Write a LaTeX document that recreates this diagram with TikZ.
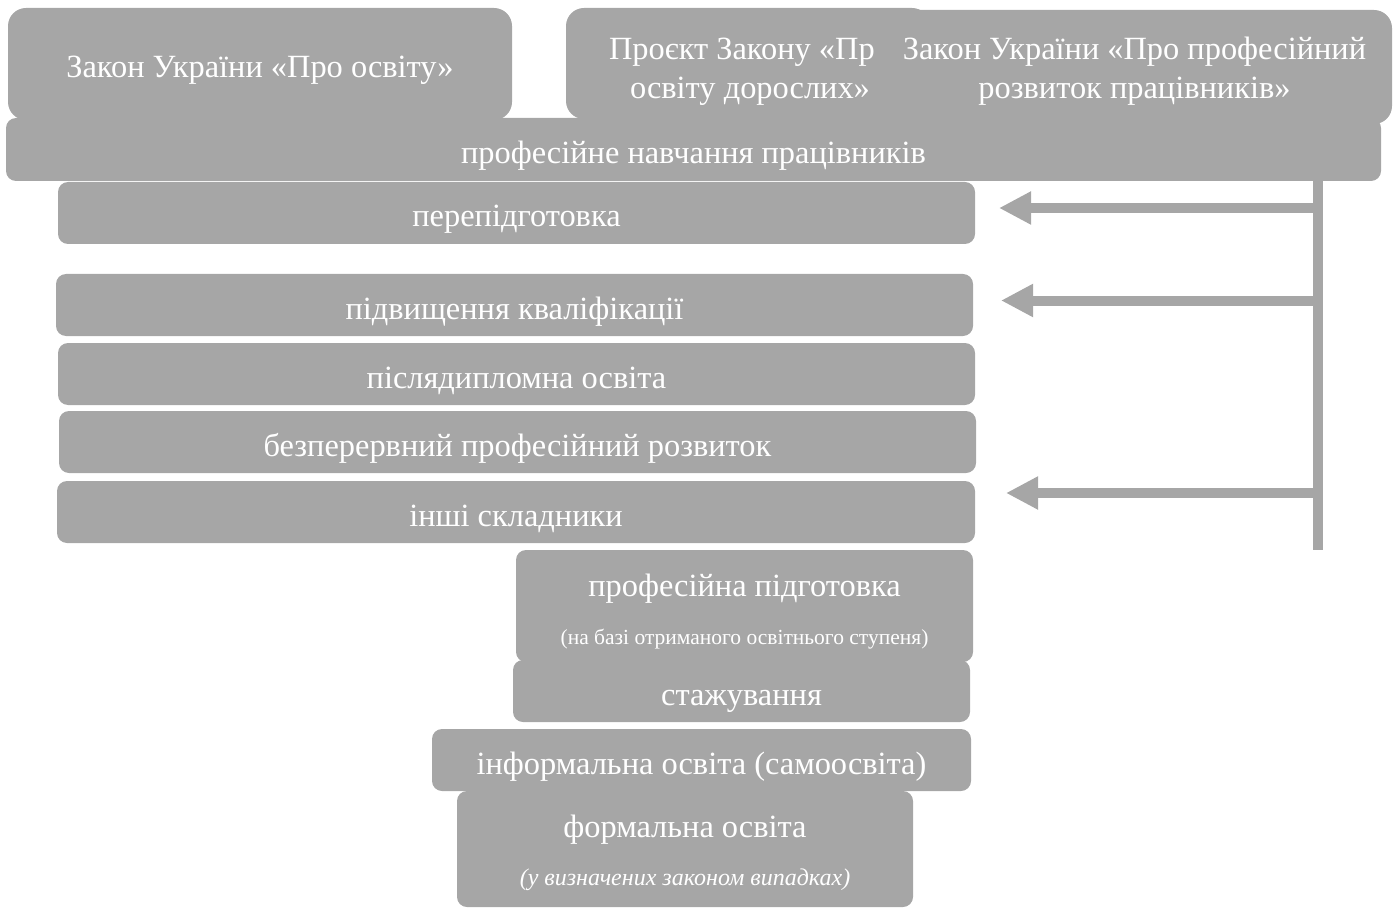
\documentclass[tikz,border=0pt]{standalone}
\usepackage{fontspec}
\setmainfont{Liberation Serif}
\usetikzlibrary{arrows.meta}
\definecolor{boxgray}{HTML}{A6A6A6}
\begin{document}
\begin{tikzpicture}[x=1pt,y=-1pt,
  box/.style={fill=boxgray, draw=none, rounded corners=10pt, inner sep=0pt,
    text=white, align=center, text height=28pt, text depth=0pt,
    font=\fontsize{32.4}{39}\selectfont},
  shapebox/.style={fill=boxgray, draw=none, rounded corners=10pt, inner sep=0pt},
  bigshape/.style={shapebox, rounded corners=18pt},
  txt/.style={inner sep=0pt, text=white, align=center, font=\fontsize{32.4}{39}\selectfont},
  smalltxt/.style={txt, font=\fontsize{21.5}{25}\selectfont},
  itxt/.style={txt, font=\fontsize{24}{28}\selectfont\itshape},
  vline/.style={draw=boxgray, line width=10pt},
  arr/.style={draw=boxgray, line width=10pt, -{Triangle[length=32pt,width=31pt]}}
]
\useasboundingbox (0,0) rectangle (1394,909);
% top boxes
\node[box, rounded corners=18pt, minimum width=504pt, minimum height=112pt] (lawEdu) at (260,64) {Закон України «Про освіту»};
\node[bigshape, minimum width=364pt, minimum height=111pt] (draftAdult) at (748,63.5) {};
\node[txt] (draftAdultT) at (750,71.5) {Проєкт Закону «Про\\освіту дорослих»};
\node[bigshape, minimum width=517pt, minimum height=114pt] (lawProf) at (1133.5,67) {};
\node[txt] (lawProfT) at (1134.5,71) {Закон України «Про професійний\\розвиток працівників»};
% bar
\node[box, minimum width=1375pt, minimum height=63pt] (bar) at (693.5,149.5) {професійне навчання працівників};
% rows
\node[box, minimum width=917pt, minimum height=62pt] (perep) at (516.5,213) {перепідготовка};
\node[box, minimum width=917pt, minimum height=62pt] (pidv) at (514.5,305) {підвищення кваліфікації};
\node[box, minimum width=917pt, minimum height=62pt] (pisl) at (516.5,374) {післядипломна освіта};
\node[box, minimum width=917pt, minimum height=62pt] (bezp) at (517.5,442) {безперервний професійний розвиток};
\node[box, minimum width=918pt, minimum height=62pt] (inshi) at (516,512) {інші складники};
\node[shapebox, minimum width=457pt, minimum height=112pt] (profp) at (744.5,606) {};
\node[txt, anchor=base] (profpA) at (744.5,596) {професійна підготовка};
\node[smalltxt, anchor=base] (profpB) at (744.5,644.5) {(на базі отриманого освітнього ступеня)};
\node[box, minimum width=457pt, minimum height=62pt] (stazh) at (741.5,691) {стажування};
\node[box, minimum width=539pt, minimum height=62pt] (inform) at (701.5,760) {інформальна освіта (самоосвіта)};
\node[shapebox, minimum width=456pt, minimum height=116pt] (formal) at (685,849) {};
\node[txt, anchor=base] (formalA) at (685,837) {формальна освіта};
\node[itxt, anchor=base] (formalB) at (685,885) {(у визначених законом випадках)};
% connectors
\coordinate (vtop) at (1318,181);
\coordinate (vbot) at (1318,550);
\draw[vline] (vtop) -- (vbot);
\coordinate (a1s) at (1318,208);
\coordinate (a1e) at (999,208);
\coordinate (a2s) at (1318,300.5);
\coordinate (a2e) at (1001,300.5);
\coordinate (a3s) at (1318,493);
\coordinate (a3e) at (1006,493);
\draw[arr] (a1s) -- (a1e);
\draw[arr] (a2s) -- (a2e);
\draw[arr] (a3s) -- (a3e);
\end{tikzpicture}
\end{document}
